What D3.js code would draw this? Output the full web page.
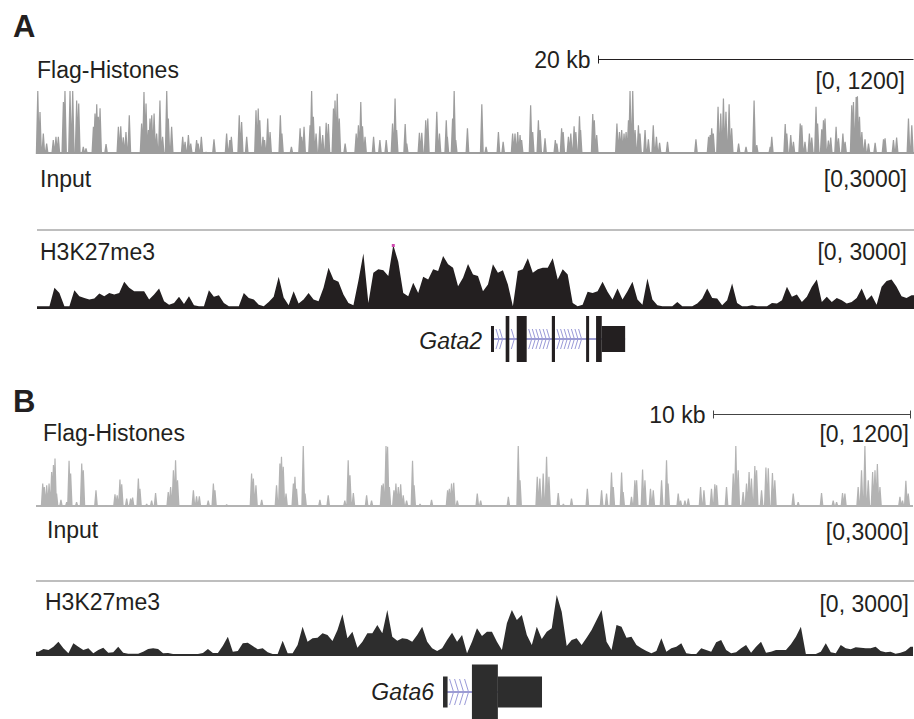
<!DOCTYPE html>
<html>
<head>
<meta charset="utf-8">
<script src="https://cdn.jsdelivr.net/npm/d3@7"></script>
<style>
  body { margin: 0; background: #fff; }
  svg { display: block; }
</style>
</head>
<body>
<div id="chart"></div>
<script>
// ---------- data (kb from window start, signal units) ----------
// Flag-Histones spikes, panel A : [position kb, signal]
const flagPeaksA = [
  [0.05,1200],[0.19,800],[0.4,390],[0.61,200],[1.03,265],[1.2,330],[1.35,330],[1.67,990],[1.77,1200],[2.09,1200],
  [2.26,1200],[2.51,1020],[2.64,960],[2.93,140],[3.1,110],[3.57,520],[3.67,770],[3.78,950],[3.88,710],[3.99,870],
  [4.37,190],[5.15,520],[5.3,530],[5.46,320],[5.63,420],[5.84,740],[6.62,580],[6.77,1180],[6.9,960],[7.05,455],
  [7.15,675],[7.26,740],[7.41,770],[7.57,390],[7.78,1020],[7.95,330],[8.21,1200],[8.31,675],[8.52,520],[9.22,330],
  [9.37,235],[9.58,360],[9.73,200],[10.1,265],[10.2,200],[10.4,330],[10.7,45],[11.2,280],[12.0,390],[12.2,265],
  [12.3,330],[12.8,740],[12.95,610],[13.27,330],[13.86,835],[14.0,865],[14.1,645],[14.3,330],[14.4,265],[14.6,675],
  [14.75,420],[15.4,740],[15.5,390],[16.1,140],[16.65,490],[16.75,330],[16.9,520],[17.28,550],[17.38,1200],[17.49,710],
  [17.66,390],[17.9,530],[18.08,360],[18.3,595],[18.44,570],[18.76,865],[18.86,1020],[19.0,1150],[19.13,675],[19.5,200],
  [20.2,390],[20.34,550],[20.49,990],[20.6,530],[20.76,330],[21.3,330],[21.7,265],[22.1,265],[22.5,580],[22.66,1055],
  [22.76,455],[23.3,570],[23.4,200],[24.2,405],[24.35,405],[24.6,645],[24.73,675],[25.3,805],[25.47,390],[25.9,645],
  [25.97,330],[26.3,675],[26.4,1200],[26.5,265],[27.24,490],[28.15,950],[28.42,140],[29.2,420],[29.5,235],[30.1,390],
  [30.25,390],[30.42,420],[30.57,360],[30.67,265],[31.24,930],[31.37,420],[31.73,645],[31.84,455],[32.15,300],[32.8,265],
  [32.9,200],[33.2,490],[33.3,420],[33.63,330],[33.78,390],[33.99,530],[34.1,420],[34.33,720],[34.4,455],[35.17,760],
  [35.27,645],[35.42,360],[36.7,580],[36.86,420],[37.0,455],[37.15,390],[37.28,420],[37.43,645],[37.53,1200],[37.7,1200],
  [37.85,455],[38.06,550],[38.16,390],[38.48,455],[38.69,280],[39.0,550],[39.2,330],[39.4,215],[39.9,235],[41.7,280],
  [42.5,330],[42.6,360],[42.7,490],[42.8,390],[43.1,900],[43.27,770],[43.44,1055],[43.6,805],[43.8,950],[43.96,490],
  [44.4,200],[44.87,140],[45.38,1020],[45.55,170],[46.4,140],[46.5,330],[47.35,570],[47.45,390],[47.7,360],[47.87,235],
  [48.3,580],[48.4,550],[48.6,235],[48.88,390],[49.03,315],[49.3,900],[49.4,580],[49.66,470],[49.77,645],[49.87,675],
  [50.08,255],[50.23,315],[50.57,520],[50.72,300],[51.0,390],[51.14,235],[51.56,930],[51.67,990],[51.84,1085],[51.92,1100],
  [52.05,710],[52.2,420],[52.4,280],[52.62,200],[53.04,215],[53.57,280],[53.67,300],[54.2,265],[54.4,315],[55.15,675],
  [55.36,550]
];

// H3K27me3 panel A, equal bins over the window
const k27A = [
  80,80,80,960,720,80,80,850,560,480,
  400,450,690,560,720,640,720,1250,960,800,
  800,800,400,640,930,320,160,240,530,190,
  560,130,80,80,850,530,610,240,80,80,
  80,720,480,400,160,80,290,530,1490,500,
  130,800,210,400,720,400,320,960,1920,1360,
  1250,640,240,130,1300,2600,240,1680,1840,1800,
  1520,3200,2200,720,560,1200,720,1490,1360,1840,
  1760,2480,2080,1920,1040,1440,2100,1600,1520,800,
  1120,2080,1680,1800,1120,80,1760,1840,2370,1680,
  1840,1920,1920,2370,1360,1840,1600,240,80,160,
  770,720,800,1250,770,400,930,400,800,1250,
  400,160,1400,400,130,80,80,80,290,80,
  80,80,210,450,930,480,450,130,370,1170,
  240,80,80,130,80,80,80,240,210,370,
  1010,530,640,290,530,1010,1360,290,530,290,
  480,370,210,290,480,930,370,610,160,1010,
  1280,1360,1010,560,480,610
];

// Flag-Histones spikes, panel B
const flagPeaksB = [
  [0.34,460],[0.42,395],[0.54,430],[0.66,460],[0.79,690],[0.88,825],[0.96,955],[1.04,265],[1.26,145],[1.55,100],
  [1.67,910],[1.75,660],[2.05,100],[2.31,855],[2.39,725],[3.03,330],[3.57,35],[3.99,250],[4.1,230],[4.24,540],
  [4.33,450],[4.58,165],[4.78,165],[4.88,185],[5.17,560],[5.25,360],[5.59,65],[5.84,130],[6.04,275],[6.68,295],
  [6.8,395],[6.94,725],[7.05,920],[7.15,525],[7.95,330],[8.11,210],[8.25,210],[8.7,130],[8.96,460],[9.04,330],
  [9.63,55],[10.89,660],[10.98,560],[11.11,430],[11.4,145],[12.15,430],[12.32,855],[12.4,990],[12.49,790],[12.63,265],
  [13.0,460],[13.08,595],[13.16,360],[13.5,1200],[13.59,265],[14.34,145],[14.76,230],[15.6,130],[15.77,920],[15.86,625],
  [16.03,275],[16.7,230],[16.95,130],[17.46,430],[17.54,460],[17.68,1200],[17.76,1185],[17.85,395],[18.08,330],[18.18,460],
  [18.3,395],[18.42,450],[18.55,230],[18.72,130],[19.02,910],[19.1,430],[19.4,65],[19.98,145],[20.79,330],[20.88,360],
  [20.99,460],[21.1,475],[21.28,130],[22.29,265],[22.46,130],[23.1,35],[23.86,200],[24.36,1200],[24.45,525],[25.32,595],
  [25.45,560],[25.62,660],[25.79,990],[25.91,595],[26.38,275],[26.64,65],[27.05,165],[27.85,360],[28.57,330],[28.82,265],
  [29.07,680],[29.16,395],[29.58,680],[29.66,295],[30.08,200],[30.25,525],[30.34,525],[30.64,740],[30.76,525],[31.04,360],
  [31.18,330],[31.6,525],[31.85,920],[31.93,460],[32.44,265],[32.56,130],[32.78,130],[32.95,165],[33.57,395],[33.74,330],
  [34.12,360],[34.29,450],[34.38,430],[34.88,395],[35.22,660],[35.35,1200],[35.47,725],[35.72,295],[35.89,460],[36.02,690],
  [36.14,560],[36.31,805],[36.4,725],[36.65,330],[36.87,775],[36.99,760],[37.2,670],[37.32,525],[38.25,265],[38.5,100],
  [39.68,275],[40.27,130],[40.44,100],[40.74,275],[40.86,265],[41.53,395],[41.7,725],[41.87,1200],[42.04,525],[42.26,690],
  [42.38,725],[42.5,845],[42.63,395],[43.64,200],[43.77,130],[43.94,515],[44.06,265]
];

// H3K27me3 panel B
const k27B = [
  164,295,246,410,656,328,82,575,410,246,
  328,82,246,360,115,131,410,115,66,66,
  66,164,295,328,295,82,98,33,33,33,
  33,33,33,98,295,98,98,460,902,164,
  197,574,607,443,279,328,131,49,49,705,
  82,82,492,1394,656,820,853,1066,984,689,
  1230,2000,820,1148,361,656,1066,1066,1476,1066,
  2214,902,705,820,787,656,984,1394,656,328,
  197,328,738,1099,656,984,82,656,1312,935,
  1148,1148,656,246,1558,2214,1722,1968,984,492,
  1394,787,1148,1312,2950,2132,443,738,820,492,
  853,1230,1722,2214,656,246,1476,1394,853,902,
  492,328,197,82,197,820,164,328,410,574,
  82,49,49,328,246,164,623,738,246,82,
  131,328,492,115,410,656,115,164,246,246,
  246,525,902,1394,49,49,49,164,574,131,
  82,492,328,279,377,361,328,328,410,197,
  131,164,66,115,197,410
];

// gene models (kb)
const gata2Exons = [
  { start: 28.73, end: 28.92, kind: "utr" },
  { start: 29.66, end: 29.89, kind: "cds" },
  { start: 30.36, end: 30.99, kind: "cds" },
  { start: 32.58, end: 32.78, kind: "cds" },
  { start: 34.75, end: 34.94, kind: "cds" },
  { start: 35.38, end: 35.74, kind: "cds" },
  { start: 35.74, end: 37.22, kind: "utr" }
];
const gata6Exons = [
  { start: 20.56, end: 20.79, kind: "utr" },
  { start: 22.02, end: 23.33, kind: "cds" },
  { start: 23.33, end: 25.56, kind: "utr" }
];

const trackNames = ["Flag-Histones", "Input", "H3K27me3"];
const rangeLabels = ["[0, 1200]", "[0,3000]", "[0, 3000]"];
const flagMax = 1200;
const k27Max = 3000;

// ---------- setup ----------
const W = 914, H = 719;
const FONT = "'Liberation Sans', Arial, Helvetica, sans-serif";
const INK = "#231f20";

const svg = d3.select("#chart").append("svg")
  .attr("width", W).attr("height", H)
  .style("font-family", FONT);

const panels = [
  {
    letter: "A", letterY: 37, windowKb: 55.5, x0: 37, x1: 914,
    bar: { kb: 20, end: 55.5, label: "20 kb", y: 59.5, bothTicks: false, color: "#231f20" },
    flag: { peaks: flagPeaksA, base: 154, top: 91, color: "#9d9d9d", labelX: 37, labelY: 78, rangeY: 89, rangeX: 905 },
    input: { labelX: 40, labelY: 187, rangeY: 187, rangeX: 907, sepY: 230 },
    k27: { vals: k27A, base: 308, top: 245, color: "#231f20", labelX: 40, labelY: 260, rangeY: 260, rangeX: 907 },
    gene: { name: "Gata2", exons: gata2Exons, cy: 339, cdsH: 23, utrH: 13, labelY: 349, chevGap: 3.6, chevH: 10, chevD: 3 }
  },
  {
    letter: "B", letterY: 412, windowKb: 44.3, x0: 36, x1: 913,
    bar: { kb: 10, end: 44.19, label: "10 kb", y: 414.5, bothTicks: true, color: "#444" },
    flag: { peaks: flagPeaksB, base: 507, top: 446, color: "#b3b3b3", labelX: 43, labelY: 441, rangeY: 442, rangeX: 909 },
    input: { labelX: 47, labelY: 538, rangeY: 540, rangeX: 909, sepY: 581 },
    k27: { vals: k27B, base: 655, top: 594, color: "#2d2d2d", labelX: 45, labelY: 610, rangeY: 612, rangeX: 909 },
    gene: { name: "Gata6", exons: gata6Exons, cy: 692, cdsH: 27.5, utrH: 15.5, labelY: 700, chevGap: 5, chevH: 13, chevD: 4 }
  }
];

function label(g, x, y, txt, anchor) {
  return g.append("text")
    .attr("x", x).attr("y", y)
    .attr("text-anchor", anchor || "start")
    .attr("font-size", "23px")
    .attr("fill", INK)
    .text(txt);
}

panels.forEach(p => {
  const g = svg.append("g");
  const x = d3.scaleLinear().domain([0, p.windowKb]).range([p.x0, p.x1]);

  // panel letter
  g.append("text")
    .attr("x", 13).attr("y", p.letterY)
    .attr("font-size", "31px").attr("font-weight", "bold")
    .attr("fill", INK).text(p.letter);

  // ---------- scale bar ----------
  const bx0 = Math.round(x(p.bar.end - p.bar.kb)) + 0.5, bx1 = Math.round(x(p.bar.end)) - 0.5;
  const bar = g.append("g").attr("stroke", p.bar.color).attr("stroke-width", 1);
  bar.append("line").attr("x1", bx0).attr("x2", bx1).attr("y1", p.bar.y).attr("y2", p.bar.y);
  bar.append("line").attr("x1", bx0).attr("x2", bx0).attr("y1", p.bar.y - 4).attr("y2", p.bar.y + 4);
  if (p.bar.bothTicks) {
    bar.append("line").attr("x1", bx1).attr("x2", bx1).attr("y1", p.bar.y - 4).attr("y2", p.bar.y + 4);
  }
  label(g, bx0 - 8, p.bar.y + 8, p.bar.label, "end");

  // ---------- Flag-Histones ----------
  const f = p.flag;
  const yF = d3.scaleLinear().domain([0, flagMax]).range([f.base, f.top]).clamp(true);
  label(g, f.labelX, f.labelY, trackNames[0]);
  label(g, f.rangeX, f.rangeY, rangeLabels[0], "end");
  g.append("rect")
    .attr("x", p.x0).attr("y", yF(0) - 2)
    .attr("width", p.x1 - p.x0).attr("height", 2)
    .attr("fill", f.color);
  g.append("path")
    .attr("fill", f.color)
    .attr("d", f.peaks.map(([kb, v]) => {
      const cx = x(kb), cy = yF(v), b = yF(0);
      return `M${cx - 2},${b}L${cx - 0.6},${cy}L${cx + 0.6},${cy}L${cx + 2},${b}Z`;
    }).join(""));

  // ---------- Input (empty) ----------
  const inp = p.input;
  label(g, inp.labelX, inp.labelY, trackNames[1]);
  label(g, inp.rangeX, inp.rangeY, rangeLabels[1], "end");
  g.append("line")
    .attr("x1", p.x0).attr("x2", W)
    .attr("y1", inp.sepY).attr("y2", inp.sepY)
    .attr("stroke", "#a8a8a8").attr("stroke-width", 1.6);

  // ---------- H3K27me3 ----------
  const k = p.k27;
  const yK = d3.scaleLinear().domain([0, k27Max]).range([k.base, k.top]).clamp(true);
  label(g, k.labelX, k.labelY, trackNames[2]);
  label(g, k.rangeX, k.rangeY, rangeLabels[2], "end");
  const binKb = p.windowKb / k.vals.length;
  const pts = k.vals.map((v, i) => ({ kb: (i + 0.5) * binKb, v }));
  pts.unshift({ kb: 0, v: k.vals[0] });
  pts.push({ kb: p.windowKb, v: k.vals[k.vals.length - 1] });
  const area = d3.area()
    .x(d => x(d.kb))
    .y0(yK(0) + 1)
    .y1(d => Math.min(yK(d.v), yK(0) - 1));
  g.append("path").datum(pts).attr("fill", k.color).attr("d", area);
  // clipped values marker
  g.selectAll(null)
    .data(pts.filter(d => d.v > k27Max))
    .join("rect")
    .attr("x", d => x(d.kb) - 1.5).attr("y", yK(k27Max) - 1)
    .attr("width", 3).attr("height", 3)
    .attr("fill", "#d04ab0");

  // ---------- gene model ----------
  const gn = p.gene;
  const ex = gn.exons;
  const gStart = x(ex[0].start), gEnd = x(ex[ex.length - 1].end);
  const intronCol = "#7c7cc4";
  g.append("line")
    .attr("x1", gStart).attr("x2", gEnd)
    .attr("y1", gn.cy).attr("y2", gn.cy)
    .attr("stroke", intronCol).attr("stroke-width", 1.5);
  // direction chevrons inside introns
  for (let i = 0; i < ex.length - 1; i++) {
    const a = x(ex[i].end) + 2, b = x(ex[i + 1].start) - 2;
    for (let cx = a; cx + gn.chevD <= b; cx += gn.chevGap) {
      g.append("path")
        .attr("d", `M${cx},${gn.cy - gn.chevH}L${cx + gn.chevD},${gn.cy}L${cx},${gn.cy + gn.chevH}`)
        .attr("fill", "none").attr("stroke", "#9a9ad8").attr("stroke-width", 1);
    }
  }
  g.selectAll(null)
    .data(ex)
    .join("rect")
    .attr("x", d => x(d.start))
    .attr("width", d => Math.max(1, x(d.end) - x(d.start)))
    .attr("y", d => gn.cy - (d.kind === "cds" ? gn.cdsH : gn.utrH))
    .attr("height", d => 2 * (d.kind === "cds" ? gn.cdsH : gn.utrH))
    .attr("fill", k.color);
  g.append("text")
    .attr("x", gStart - 9).attr("y", gn.labelY)
    .attr("text-anchor", "end")
    .attr("font-size", "23px").attr("font-style", "italic")
    .attr("fill", INK)
    .text(gn.name);
});
</script>
</body>
</html>
